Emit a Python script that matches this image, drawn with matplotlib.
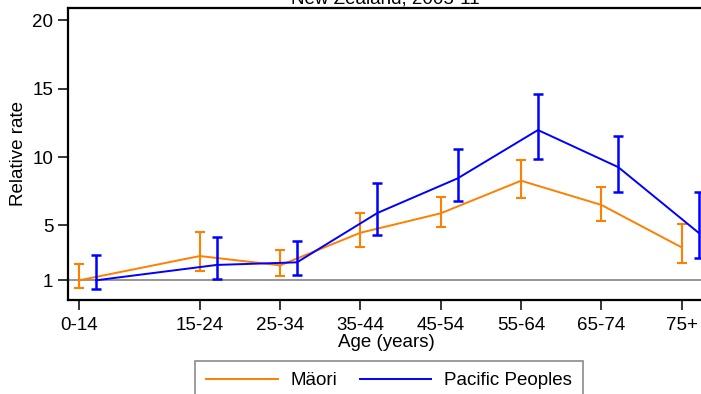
import numpy as np
import matplotlib
matplotlib.use('Agg')
import matplotlib.pyplot as plt

# داده‌ها: گروه‌های سنی و نسبت‌ها
age_groups = ['0-14', '15-24', '25-34', '35-44', '45-54', '55-64', '65-74', '75+']
age_start = [0, 15, 25, 35, 45, 55, 65, 75]

maori_rate = [1.0, 2.77, 2.09, 4.47, 5.89, 8.27, 6.5, 3.4]
maori_low = [0.43, 1.70, 1.31, 3.41, 4.86, 6.99, 5.35, 2.28]
maori_high = [2.17, 4.55, 3.19, 5.89, 7.10, 9.80, 7.79, 5.11]

pacific_rate = [1.0, 2.12, 2.31, 5.91, 8.44, 11.97, 9.26, 4.47]
pacific_low = [0.34, 1.09, 1.36, 4.31, 6.76, 9.86, 7.46, 2.66]
pacific_high = [2.87, 4.18, 3.85, 8.08, 10.58, 14.6, 11.57, 7.46]

plt.rcParams['font.family'] = ['Liberation Sans', 'DejaVu Sans']
plt.rcParams['font.size'] = 13.5

W, H = 701, 394
fig = plt.figure(figsize=(W / 100, H / 100), dpi=100)
ax = fig.add_axes([68 / W, 1 - 300 / H, (705 - 68) / W, (300 - 8) / H])

x_m = np.array(age_start, dtype=float)
x_p = x_m + 2.1  # جابجایی کوچک برای سری دوم

ax.axhline(1, color='#8c8c8c', lw=1.3, zorder=1)

m = np.array(maori_rate)
ax.errorbar(x_m, m, yerr=[m - np.array(maori_low), np.array(maori_high) - m],
            color='#ff7f00', lw=1.4, elinewidth=1.5, capsize=3.3, capthick=1.5,
            label='Mäori', zorder=3)
p = np.array(pacific_rate)
ax.errorbar(x_p, p, yerr=[p - np.array(pacific_low), np.array(pacific_high) - p],
            color='#0000ff', lw=1.4, elinewidth=1.8, capsize=3.3, capthick=1.8,
            label='Pacific Peoples', zorder=4)

ax.set_xlim(-1.41, 77.9)
ax.set_ylim(-0.44, 20.88)
ax.set_xticks(age_start)
ax.set_xticklabels(age_groups)
ax.set_yticks([1, 5, 10, 15, 20])
ax.tick_params(length=7.5, width=1.1, pad=3, colors='black')
ax.tick_params(axis='x', pad=5)
for s in ['left', 'bottom', 'top']:
    ax.spines[s].set_linewidth(1.6)
ax.spines['right'].set_visible(False)

ax.set_xlabel('Age (years)', labelpad=0)
ax.set_ylabel('Relative rate', labelpad=4)

fig.text(0.55, 1 - 3 / H, 'New Zealand, 2005-11', ha='center', va='baseline')

handles = [plt.Line2D([], [], color='#ff7f00', lw=1.4),
           plt.Line2D([], [], color='#0000ff', lw=1.4)]
leg = fig.legend(handles, ['Mäori', 'Pacific Peoples'], ncol=2,
                 loc='upper left', bbox_to_anchor=(195 / W, 1 - 361 / H),
                 borderaxespad=0, frameon=True, fancybox=False,
                 handlelength=3.8, handletextpad=0.68, columnspacing=1.2,
                 borderpad=0.6)
leg.get_frame().set_edgecolor('#6e6e6e')
leg.get_frame().set_linewidth(1.2)

fig.savefig('out.png', dpi=100)
